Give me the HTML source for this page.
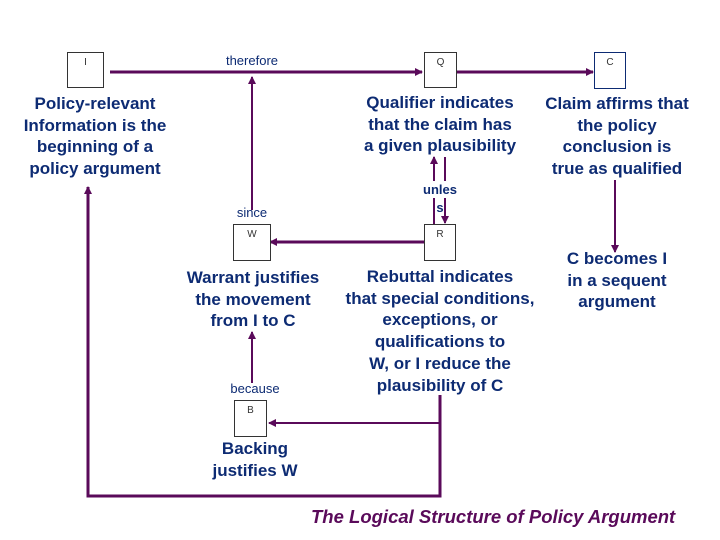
<!DOCTYPE html>
<html><head><meta charset="utf-8"><style>
body{margin:0;width:720px;height:540px;background:#fff;position:relative;overflow:hidden;font-family:"Liberation Sans",Arial,sans-serif}
.t{position:absolute;text-align:center;color:#0d2b73;font-weight:bold;font-size:17px;line-height:21.7px;white-space:nowrap}
.s{position:absolute;text-align:center;color:#0d2b73;font-size:13px;white-space:nowrap}
.b{position:absolute;border:1px solid #333;background:#fff;box-sizing:border-box;font-size:10px;text-align:center;padding-top:4px;color:#333}
</style></head><body>
<svg width="720" height="540" style="position:absolute;left:0;top:0">
<defs><marker id="a" markerWidth="8" markerHeight="8" refX="7" refY="4" orient="auto" markerUnits="userSpaceOnUse"><path d="M0,0L8,4L0,8z" fill="#5a0a5a"/></marker></defs>
<g stroke="#5a0a5a" fill="none">
<line x1="110" y1="72" x2="422" y2="72" stroke-width="3" marker-end="url(#a)"/>
<line x1="457" y1="72" x2="593" y2="72" stroke-width="3" marker-end="url(#a)"/>
<line x1="252" y1="210" x2="252" y2="77" stroke-width="2" marker-end="url(#a)"/>
<line x1="434" y1="224" x2="434" y2="157" stroke-width="2" marker-end="url(#a)"/>
<line x1="445" y1="157" x2="445" y2="223" stroke-width="2" marker-end="url(#a)"/>
<line x1="424" y1="242" x2="270" y2="242" stroke-width="3" marker-end="url(#a)"/>
<line x1="615" y1="180" x2="615" y2="252" stroke-width="2" marker-end="url(#a)"/>
<line x1="252" y1="383" x2="252" y2="332" stroke-width="2" marker-end="url(#a)"/>
<polyline points="440,395 440,496 88,496 88,187" stroke-width="3" marker-end="url(#a)"/>
<line x1="440" y1="423" x2="269" y2="423" stroke-width="2" marker-end="url(#a)"/>
</g></svg>
<div class="b" style="left:67px;top:52px;width:37px;height:36px">I</div>
<div class="b" style="left:424px;top:52px;width:33px;height:36px">Q</div>
<div class="b" style="left:594px;top:52px;width:32px;height:37px;border:1.5px solid #0d2b73">C</div>
<div class="b" style="left:233px;top:224px;width:38px;height:37px">W</div>
<div class="b" style="left:424px;top:224px;width:32px;height:37px">R</div>
<div class="b" style="left:234px;top:400px;width:33px;height:37px">B</div>
<div class="s" style="left:152px;top:53px;width:200px">therefore</div>
<div class="s" style="left:152px;top:205px;width:200px">since</div>
<div class="s" style="left:155px;top:381px;width:200px">because</div>
<div class="t" style="left:0;top:93px;width:190px">Policy-relevant<br>Information is the<br>beginning of a<br>policy argument</div>
<div class="t" style="left:340px;top:92px;width:200px">Qualifier indicates<br>that the claim has<br>a given plausibility</div>
<div class="t" style="left:517px;top:93px;width:200px">Claim affirms that<br>the policy<br>conclusion is<br>true as qualified</div>
<div class="s" style="left:421px;top:181px;width:38px;font-weight:bold;background:#fff;line-height:17px">unles</div>
<div class="s" style="left:436px;top:199px;width:8px;font-weight:bold;background:#fff;line-height:17px">s</div>
<div class="t" style="left:153px;top:267px;width:200px">Warrant justifies<br>the movement<br>from I to C</div>
<div class="t" style="left:315px;top:266px;width:250px">Rebuttal indicates<br>that special conditions,<br>exceptions, or<br>qualifications to<br>W, or I reduce the<br>plausibility of C</div>
<div class="t" style="left:517px;top:248px;width:200px">C becomes I<br>in a sequent<br>argument</div>
<div class="t" style="left:155px;top:438px;width:200px">Backing<br>justifies W</div>
<div style="position:absolute;left:311px;top:506px;width:400px;color:#5a0a5a;font-style:italic;font-weight:bold;font-size:18.5px;white-space:nowrap">The Logical Structure of Policy Argument</div>
</body></html>
